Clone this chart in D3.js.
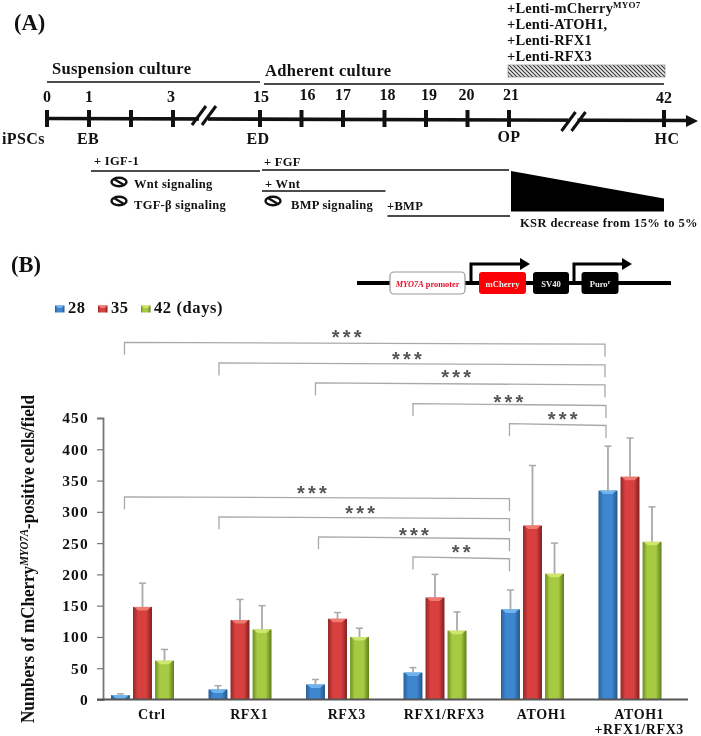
<!DOCTYPE html>
<html><head><meta charset="utf-8">
<style>
html,body{margin:0;padding:0;background:#fff}
svg{display:block;filter:blur(0.45px)}
text{font-family:"Liberation Serif",serif;font-weight:bold;fill:#111}
</style>
<script src="https://cdnjs.cloudflare.com/ajax/libs/d3/7.8.5/d3.min.js"></script>
</head><body><svg id="c" width="701" height="736"></svg>
<script>
// ---- Panel B data ----
const categories = ["Ctrl","RFX1","RFX3","RFX1/RFX3","ATOH1","ATOH1\n+RFX1/RFX3"];
const seriesNames = ["28","35","42"];
const values28 = [7,16,24,43,144,334];
const values35 = [148,127,129,163,278,356];
const values42 = [62,112,100,110,201,252];
const errors28 = [2,6,8,8,31,71];
const errors35 = [38,33,10,37,96,62];
const errors42 = [18,38,14,30,49,56];
const yTicks = [0,50,100,150,200,250,300,350,400,450];
const seriesFill = [["#2a5f99","#3f86d0","#265488"],["#8e2626","#d83f3f","#7f2020"],["#6f8f24","#a6cb42","#5f7d1c"]];
const seriesCap = ["#6fb4ee","#ee7a72","#cfe56e"];
// significance brackets: group indices, height in axis units
const bracketFrom = [0,1,2,3,4,0,1,2,3];
const bracketTo = [5,5,5,5,5,4,4,4,4];
const bracketLevel = [571,538,506,473,441,324,292,260,228];
const bracketLabel = ["***","***","***","***","***","***","***","***","**"];
const bracketFromNudge = [4,1,0,0,-1,4,1,3,0];
const bracketToNudge = [-3,-3,-3,-2,-2,-1,-1,-1,-1];
const labelShift = [-18,-5,-4,-1,5,-5,-4,0,0];
const labelRise = [8,7,9,5,8,7,7,5,8];
// ---- Panel A data ----
const dayTicks = [0,1,2,3,15,16,17,18,19,20,21,42];
const dayLabels = [[0,"0",0,102],[1,"1",0,102],[3,"3",-2,102],[15,"15",1,102],[16,"16",6,100],[17,"17",0,100],[18,"18",3,100],[19,"19",3,100],[20,"20",-1,100],[21,"21",2,100],[42,"42",0,103]];
const stageLabels = [[0,"iPSCs",-45,144,"start"],[1,"EB",-1,144,"middle"],[15,"ED",-2,144,"middle"],[21,"OP",0,142,"middle"],[42,"HC",3,144,"middle"]];
const lentiLines = ["+Lenti-ATOH1,","+Lenti-RFX1","+Lenti-RFX3"];

const svg = d3.select("#c");
const defs = svg.append("defs");
const grey = "#a9a9a9";

// ===== Panel A =====
const day = d3.scaleLinear().domain([0,3,15,21,42]).range([47,173,260,509,664]);
const A = svg.append("g");
const t = (g,x,y,s,size,anchor="start",ls=0)=>g.append("text").attr("x",x).attr("y",y).attr("font-size",size).attr("text-anchor",anchor).attr("letter-spacing",ls).text(s);
t(A,14,30,"(A)",22.5);
t(A,52,74,"Suspension culture",16.5,"start",0.35);
t(A,265,76,"Adherent culture",16.5,"start",0.35);
const hline=(d0,d1,y,w,dx0=0,dx1=0)=>A.append("line").attr("x1",day(d0)+dx0).attr("x2",day(d1)+dx1).attr("y1",y).attr("y2",y).attr("stroke","#111").attr("stroke-width",w);
hline(0,15,82,1.6);
hline(15,42,84,1.6,4,0);
// timeline
A.append("line").attr("x1",day(0)).attr("x2",day(42)+26).attr("y1",118.5).attr("y2",120.5).attr("stroke","#111").attr("stroke-width",3.6);
A.append("path").attr("fill","#111").attr("d",`M${day(42)+22},115L${day(42)+34},121L${day(42)+22},127Z`);
A.selectAll("line.tk").data(dayTicks).join("line").attr("class","tk")
 .attr("x1",d=>day(d)).attr("x2",d=>day(d)).attr("y1",110).attr("y2",127).attr("stroke","#111").attr("stroke-width",4);
// axis breaks
[[7.2,2.5,0],[29.2,6,6]].forEach(([d,dx,dy])=>{
 const cx=day(d)+dx;
 A.append("rect").attr("x",cx-7).attr("y",114).attr("width",9).attr("height",11).attr("fill","#fff");
 [-8,2].forEach(o=>A.append("line").attr("x1",cx+o-6).attr("x2",cx+o+8).attr("y1",125+dy).attr("y2",106+dy).attr("stroke","#111").attr("stroke-width",3));
});
dayLabels.forEach(([d,s,dx,y])=>t(A,day(d)+dx,y,s,16,"middle",0.1));
stageLabels.forEach(([d,s,dx,y,a])=>t(A,day(d)+dx,y,s,16,a,0.4));
// Lenti block
const lenti=t(A,507,13,"+Lenti-mCherry",14.5,"start",0.2);
lenti.append("tspan").attr("font-size",9).attr("dy",-5).text("MYO7");
lentiLines.forEach((s,i)=>t(A,507,29+16*i,s,14.5,"start",0.15));
const pat=defs.append("pattern").attr("id","hatch").attr("width",4).attr("height",4).attr("patternUnits","userSpaceOnUse");
pat.append("rect").attr("width",4).attr("height",4).attr("fill","#ececec");
pat.append("path").attr("d","M-1,-1L5,5M-1,3L1,5M3,-1L5,1").attr("stroke","#333").attr("stroke-width",1.1);
A.append("rect").attr("x",day(21)-1).attr("y",65).attr("width",day(42)-day(21)+2).attr("height",12).attr("fill","url(#hatch)").attr("stroke","#777").attr("stroke-width",.6);
// treatments
t(A,94,165,"+ IGF-1",12.5,"start",0.3);
hline(1,15,171,1.6,2,0);
t(A,264,166,"+ FGF",12.5,"start",0.3);
hline(15,21,170,1.6,2,0);
t(A,265,188,"+ Wnt",12.5,"start",0.3);
hline(15,18,191,1.6,2,1);
t(A,387,210,"+BMP",12.5,"start",0.3);
hline(18,21,216,1.6,3,1);
t(A,134,188,"Wnt signaling",12.5,"start",0.3);
t(A,134,209,"TGF-β signaling",12.5,"start",0.3);
t(A,291,209,"BMP signaling",12.5,"start",0.3);
[[119,182],[119,201],[273,201]].forEach(([x,y])=>{
 A.append("ellipse").attr("cx",x).attr("cy",y).attr("rx",7.5).attr("ry",4.2).attr("fill","none").attr("stroke","#111").attr("stroke-width",2.4);
 A.append("line").attr("x1",x-5).attr("x2",x+5).attr("y1",y-3).attr("y2",y+3).attr("stroke","#111").attr("stroke-width",2.4);
});
A.append("path").attr("fill","#000").attr("d",`M${day(21)+2},171L${day(42)},198.5L${day(42)},211.5L${day(21)+2},211.5Z`);
t(A,520,227,"KSR decrease from 15% to 5%",12.5,"start",0.4);

// ===== Construct =====
const C=svg.append("g");
C.append("line").attr("x1",357).attr("x2",671).attr("y1",283).attr("y2",283).attr("stroke","#000").attr("stroke-width",4);
C.append("rect").attr("x",390).attr("y",272).attr("width",75).attr("height",22).attr("rx",4).attr("fill","#fff").attr("stroke","#999").attr("stroke-width",1.2);
const pr=C.append("text").attr("x",427.5).attr("y",287).attr("text-anchor","middle").attr("font-size",8.3).style("fill","#e8102a");
pr.append("tspan").attr("font-style","italic").text("MYO7A");pr.append("tspan").text(" promoter");
[[479,47,"#fb0007","mCherry"],[533,36,"#000","SV40"],[581.5,37,"#000","Puro"]].forEach(([x,w,f,s])=>{
 C.append("rect").attr("x",x).attr("y",272).attr("width",w).attr("height",22).attr("rx",3).attr("fill",f);
 const tx=C.append("text").attr("x",x+w/2).attr("y",287).attr("text-anchor","middle").attr("font-size",8.6).style("fill","#eee").text(s);
 if(s==="Puro") tx.append("tspan").attr("font-size",6).attr("dy",-3).text("r");
});
[[471,520],[574,622]].forEach(([a,b])=>{
 C.append("path").attr("fill","none").attr("stroke","#000").attr("stroke-width",3).attr("d",`M${a},283V264H${b}`);
 C.append("path").attr("fill","#000").attr("d",`M${b},258L${b+10},264L${b},270Z`);
});

// ===== Panel B =====
const B=svg.append("g");
t(B,11,272,"(B)",22.5);
const x0=d3.scaleBand().domain(categories).range([103,688]);
const x1=d3.scaleBand().domain(seriesNames).range([8,71]).paddingInner(0.14);
const y=d3.scaleLinear().domain([0,450]).range([699.5,418]);
const seriesVals=[values28,values35,values42], seriesErr=[errors28,errors35,errors42];

seriesNames.forEach((s,i)=>{
 const g=defs.append("linearGradient").attr("id","g"+i);
 [[0,0],[.25,1],[.7,1],[1,2]].forEach(([o,c])=>g.append("stop").attr("offset",o).attr("stop-color",seriesFill[i][c]));
});

// legend
const legX=[55,98,141], legLabel=["28","35","42 (days)"];
legLabel.forEach((s,i)=>{
 B.append("rect").attr("x",legX[i]).attr("y",305.5).attr("width",9.5).attr("height",7).attr("fill","url(#g"+i+")");
 B.append("path").attr("fill",seriesCap[i]).attr("d",`M${legX[i]},305.5h9.5l-3,2.5h-3.5Z`);
 t(B,legX[i]+13,312.5,s,16.5,"start",0.6);
});

// bars
categories.forEach((c,gi)=>{
 seriesNames.forEach((s,si)=>{
  const bx=x0(c)+x1(s), w=x1.bandwidth(), v=seriesVals[si][gi], e=seriesErr[si][gi];
  const cx=bx+w/2;
  B.append("line").attr("x1",cx).attr("x2",cx).attr("y1",y(v+e)).attr("y2",y(v)).attr("stroke",grey).attr("stroke-width",1.8);
  B.append("line").attr("x1",cx-3.5).attr("x2",cx+3.5).attr("y1",y(v+e)).attr("y2",y(v+e)).attr("stroke",grey).attr("stroke-width",1.5);
  B.append("rect").attr("x",bx).attr("y",y(v)).attr("width",w).attr("height",y(0)-y(v)).attr("fill",`url(#g${si})`);
  B.append("path").attr("fill",seriesCap[si]).attr("d",`M${bx+1},${y(v)}H${bx+w-1}L${bx+w-5},${y(v)+3.5}H${bx+5}Z`);
 });
});

// axes
const axis=d3.axisLeft(y).tickValues(yTicks).tickSize(6).tickPadding(8);
const ag=B.append("g").attr("transform","translate(103,0)").call(axis);
ag.select(".domain").attr("stroke","#777").attr("stroke-width",1.8);
ag.selectAll(".tick line").attr("stroke","#777").attr("stroke-width",1.2);
ag.selectAll(".tick text").attr("font-size",15.5).attr("letter-spacing",1.2).style("font-family",'"Liberation Serif",serif').style("font-weight","bold").attr("fill","#111");
B.append("line").attr("x1",97).attr("x2",688).attr("y1",y(0)).attr("y2",y(0)).attr("stroke","#555").attr("stroke-width",1.8);

categories.forEach(c=>{
 c.split("\n").forEach((l,i)=>t(B,x0(c)+x0.bandwidth()/2,719+i*14.5,l,14,"middle",0.6));
});

const yt=B.append("text").attr("transform","translate(34,723) rotate(-90)").attr("font-size",18).attr("textLength",328).attr("lengthAdjust","spacingAndGlyphs");
yt.append("tspan").text("Numbers of mCherry");
yt.append("tspan").attr("font-size",11.5).attr("dy",-6).attr("font-style","italic").text("MYO7A");
yt.append("tspan").attr("dy",6).text("-positive cells/field");

// brackets
const centre=g=>x0(categories[g])+x1("28")+x1.bandwidth()/2;
bracketFrom.forEach((f,i)=>{
 const a=centre(f)+bracketFromNudge[i], b=centre(bracketTo[i])+bracketToNudge[i];
 const l=bracketLevel[i];
 B.append("path").attr("fill","none").attr("stroke",grey).attr("stroke-width",1.3)
  .attr("d",`M${a},${y(l-20)}V${y(l)}L${b},${y(l-3)}V${y(l-23)}`);
 B.append("text").attr("x",(a+b)/2+labelShift[i]+1.6).attr("y",y(l)-labelRise[i]+10).attr("text-anchor","middle")
  .attr("font-size",20).attr("letter-spacing",3.2).style("fill","#555").style("font-family",'"Liberation Sans",sans-serif').text(bracketLabel[i]);
});
</script></body></html>
